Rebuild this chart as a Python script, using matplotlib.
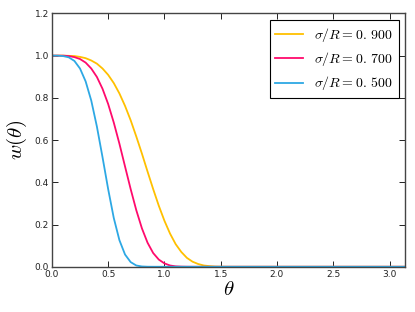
import numpy as np
import matplotlib
matplotlib.use("Agg")
import matplotlib.pyplot as plt

plt.rcParams['mathtext.fontset'] = 'cm'

# valeurs
theta = [0.00, 0.05, 0.10, 0.15, 0.20, 0.25, 0.30, 0.35, 0.40, 0.45,
         0.50, 0.55, 0.60, 0.65, 0.70, 0.75, 0.80, 0.85, 0.90, 0.95,
         1.00, 1.05, 1.10, 1.15, 1.20, 1.25, 1.30, 1.35, 1.40, 1.45,
         1.50, 1.55, 1.60, 3.1416]

w_09 = [1.000, 1.000, 1.000, 0.999, 0.998, 0.994, 0.988, 0.977, 0.962, 0.939,
        0.909, 0.870, 0.821, 0.762, 0.694, 0.617, 0.536, 0.451, 0.368, 0.289,
        0.218, 0.157, 0.107, 0.070, 0.042, 0.024, 0.013, 0.006, 0.003, 0.001,
        0.0004, 0.0001, 0.0, 0.0]
w_07 = [1.000, 1.000, 1.000, 0.998, 0.993, 0.984, 0.967, 0.939, 0.899, 0.843,
        0.771, 0.683, 0.583, 0.475, 0.368, 0.268, 0.182, 0.114, 0.065, 0.034,
        0.016, 0.006, 0.002, 0.0007, 0.0002, 0.0, 0.0, 0.0, 0.0, 0.0,
        0.0, 0.0, 0.0, 0.0]
w_05 = [1.000, 1.000, 0.998, 0.992, 0.975, 0.939, 0.878, 0.787, 0.664, 0.519,
        0.368, 0.231, 0.126, 0.058, 0.022, 0.006, 0.0014, 0.0002, 0.0, 0.0,
        0.0, 0.0, 0.0, 0.0, 0.0, 0.0, 0.0, 0.0, 0.0, 0.0,
        0.0, 0.0, 0.0, 0.0]

series = [(w_09, '#FFC000', r'$\sigma/R = 0.\,900$'),
          (w_07, '#FF0A6C', r'$\sigma/R = 0.\,700$'),
          (w_05, '#2DA8E4', r'$\sigma/R = 0.\,500$')]

fig = plt.figure(figsize=(4.15, 3.12), dpi=100)
ax = fig.add_axes([0.125, 0.145, 0.852, 0.812])

for w, c, lab in series:
    ax.plot(theta, w, color=c, lw=1.3, label=lab)

ax.set_xlim(0, np.pi)
ax.set_ylim(0, 1.2)
ax.set_xticks([0.0, 0.5, 1.0, 1.5, 2.0, 2.5, 3.0])
ax.set_yticks([0.0, 0.2, 0.4, 0.6, 0.8, 1.0, 1.2])
ax.tick_params(direction='in', top=True, right=True, length=4, width=0.7,
               labelsize=6.5, colors='#222222', pad=2)
for s in ax.spines.values():
    s.set_color('#444444')
    s.set_linewidth(1.0)

ax.set_xlabel(r'$\theta$', fontsize=15, labelpad=0)
ax.set_ylabel(r'$w(\theta)$', fontsize=15, labelpad=4)

leg = ax.legend(loc='upper right', fontsize=10, fancybox=False, framealpha=1,
                borderaxespad=0.5, labelspacing=0.45)
leg.get_frame().set_edgecolor('black')
leg.get_frame().set_linewidth(0.8)

plt.savefig('out.png', dpi=100)
